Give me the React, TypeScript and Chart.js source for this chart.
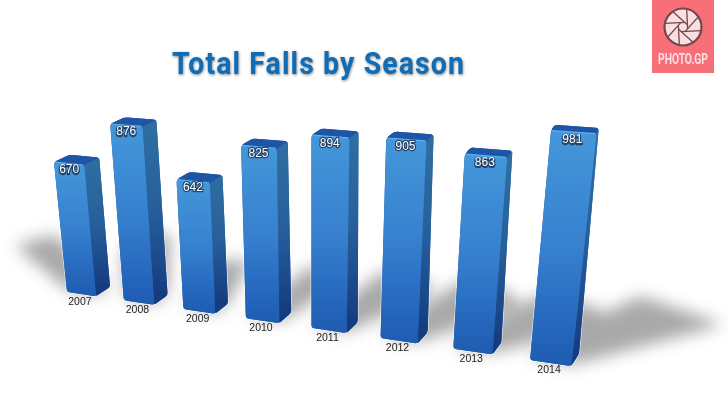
import React, { useEffect, useRef } from "react";
import { Chart, registerables } from "chart.js";

Chart.register(...registerables);

const chartTitle = "Total Falls by Season";
const seasons = ["2007", "2008", "2009", "2010", "2011", "2012", "2013", "2014"];
const totalFalls = [670, 876, 642, 825, 894, 905, 863, 981];
const logoText = "PHOTO.GP";

type P = { x: number; y: number };

// Camera fitted to the reference: u = bar slot, h = value / 1000, z = depth
function project(u: number, h: number, z: number): P {
  const w = 1 - 0.023 * u - 0.0751 * h + 0.0162 * z;
  return {
    x: (67 + 53.96 * u - 23.46 * h + 15.7 * z - 0.6 * u * h * z) / w,
    y: (292 + 1.436 * u - 206 * h - 4.5 * z + 0.3 * u * h * z) / w,
  };
}

function roundedPoly(ctx: CanvasRenderingContext2D, pts: P[], r: number) {
  const n = pts.length;
  const toward = (a: P, b: P) => {
    const len = Math.hypot(b.x - a.x, b.y - a.y) || 1;
    const d = Math.min(r, len / 2);
    return { x: a.x + ((b.x - a.x) * d) / len, y: a.y + ((b.y - a.y) * d) / len };
  };
  for (let i = 0; i < n; i++) {
    const p = pts[i];
    const prev = pts[(i + n - 1) % n];
    const next = pts[(i + 1) % n];
    const s = toward(p, prev);
    const e = toward(p, next);
    if (i === 0) ctx.moveTo(s.x, s.y);
    else ctx.lineTo(s.x, s.y);
    ctx.quadraticCurveTo(p.x, p.y, e.x, e.y);
  }
  ctx.closePath();
}

function hull(points: P[]): P[] {
  const s = [...points].sort((a, b) => a.x - b.x || a.y - b.y);
  const cross = (o: P, a: P, b: P) => (a.x - o.x) * (b.y - o.y) - (a.y - o.y) * (b.x - o.x);
  const lo: P[] = [];
  for (const p of s) {
    while (lo.length >= 2 && cross(lo[lo.length - 2], lo[lo.length - 1], p) <= 0) lo.pop();
    lo.push(p);
  }
  const up: P[] = [];
  for (const p of [...s].reverse()) {
    while (up.length >= 2 && cross(up[up.length - 2], up[up.length - 1], p) <= 0) up.pop();
    up.push(p);
  }
  return lo.slice(0, -1).concat(up.slice(0, -1));
}

function drawLogo(ctx: CanvasRenderingContext2D) {
  ctx.save();
  ctx.fillStyle = "#f96f78";
  ctx.fillRect(652, 0, 62, 73);
  const cx = 683;
  const cy = 27;
  const R = 18.5;
  ctx.beginPath();
  ctx.arc(cx, cy, R, 0, Math.PI * 2);
  ctx.fillStyle = "#fcdde1";
  ctx.fill();
  ctx.save();
  ctx.clip();
  ctx.strokeStyle = "#70494e";
  ctx.lineWidth = 1.3;
  for (let k = 0; k < 8; k++) {
    const a = (k * Math.PI) / 4 + 0.2;
    const b = a + 1.75;
    ctx.beginPath();
    ctx.moveTo(cx + R * Math.cos(a), cy + R * Math.sin(a));
    ctx.lineTo(cx + 5 * Math.cos(b), cy + 5 * Math.sin(b));
    ctx.stroke();
  }
  ctx.restore();
  ctx.beginPath();
  ctx.arc(cx, cy, R, 0, Math.PI * 2);
  ctx.strokeStyle = "#70494e";
  ctx.lineWidth = 2.2;
  ctx.stroke();
  ctx.font = "bold 15px Roboto";
  ctx.textAlign = "center";
  ctx.textBaseline = "middle";
  ctx.fillStyle = "#fde0e2";
  const m = ctx.measureText(logoText).width;
  ctx.translate(683, 60.5);
  ctx.scale(50 / m, 1);
  ctx.fillText(logoText, 0, 0);
  ctx.restore();
}

const bars3d = {
  id: "bars3d",
  afterDatasetsDraw(chart: any) {
    const { ctx } = chart;
    const xs = chart.scales.x;
    const ys = chart.scales.y;
    const pitch = xs.getPixelForValue(1) - xs.getPixelForValue(0);
    const x0 = xs.getPixelForValue(0);
    const meta = chart.getDatasetMeta(0);
    const bars = meta.data.map((el: any, i: number) => {
      const u0 = (el.x - x0) / pitch;
      return {
        i,
        u0,
        u1: u0 + el.width / pitch,
        h: (el.base - el.y) / ys.height,
      };
    });

    // ground shadows, thrown away from a light above the middle of the row
    ctx.save();
    ctx.filter = "blur(8px)";
    ctx.beginPath();
    for (const b of bars) {
      const um = (b.u0 + b.u1) / 2;
      const left = um < 2.8;
      const t = left ? (2.8 - um) / 2.55 : (um - 2.8) / 4.46;
      const farU = um + (left ? -1.94 * t : 0.57 * t);
      const outU = um + (left ? -2.35 * t : 1.78 * t);
      const farZ = (left ? 8.2 : 6.7) * b.h;
      const outZ = (left ? 5.8 : 5) * b.h;
      const spread = 0.35 * Math.max(0, 1 - Math.abs(um - 3.75) / 3.5);
      const pts: P[] = [
        project(b.u0, 0, 0.1),
        project(b.u1, 0, 0.1),
        project(b.u1, 0, 1),
        project(b.u0, 0, 1),
        project(farU - spread, 0, farZ),
        project(farU + spread, 0, farZ),
        project(outU - spread, 0, outZ),
        project(outU + spread, 0, outZ),
      ];
      roundedPoly(ctx, hull(pts), 10);
    }
    ctx.fillStyle = "rgba(40,40,40,0.4)";
    ctx.fill("nonzero");
    ctx.restore();

    for (const b of bars) {
      const fbl = project(b.u0, 0, 0);
      const fbr = project(b.u1, 0, 0);
      const sbr = project(b.u1, 0, 1);
      const ftl = project(b.u0, b.h, 0);
      const ftr = project(b.u1, b.h, 0);
      const btr = project(b.u1, b.h, 1);
      const btl = project(b.u0, b.h, 1);

      ctx.save();
      // soft white rim and solid body behind the faces
      ctx.beginPath();
      roundedPoly(ctx, [ftl, btl, btr, sbr, fbr, fbl], 3);
      ctx.strokeStyle = "rgba(255,255,255,0.5)";
      ctx.lineWidth = 2;
      ctx.stroke();
      ctx.fillStyle = "#1f5aa8";
      ctx.fill();

      // side
      const gs = ctx.createLinearGradient(0, btr.y, 0, sbr.y);
      gs.addColorStop(0, "#2f6fa0");
      gs.addColorStop(0.5, "#275f9b");
      gs.addColorStop(1, "#143c80");
      ctx.beginPath();
      roundedPoly(ctx, [ftr, btr, sbr, fbr], 2);
      ctx.fillStyle = gs;
      ctx.fill();

      // top
      ctx.beginPath();
      roundedPoly(ctx, [ftl, btl, btr, ftr], 3);
      ctx.fillStyle = "#1e55a7";
      ctx.fill();

      // front
      const gf = ctx.createLinearGradient(0, ftl.y, 0, fbr.y);
      gf.addColorStop(0, "#4497da");
      gf.addColorStop(0.5, "#3780cf");
      gf.addColorStop(0.85, "#2466bb");
      gf.addColorStop(1, "#1f5bb1");
      ctx.beginPath();
      roundedPoly(ctx, [ftl, ftr, fbr, fbl], 2.5);
      ctx.fillStyle = gf;
      ctx.fill();

      // highlight on the front top edge
      ctx.beginPath();
      ctx.moveTo(ftl.x + 1, ftl.y);
      ctx.lineTo(ftr.x - 1, ftr.y);
      ctx.strokeStyle = "#58b4ec";
      ctx.lineWidth = 1.2;
      ctx.stroke();
      ctx.restore();

      const um = (b.u0 + b.u1) / 2;
      // value label
      const v = project(um, b.h - 0.03, 0);
      ctx.save();
      ctx.font = "12px 'Liberation Sans'";
      ctx.textAlign = "center";
      ctx.textBaseline = "middle";
      ctx.lineJoin = "round";
      ctx.lineWidth = 2.4;
      ctx.strokeStyle = "rgba(25,40,70,0.75)";
      ctx.strokeText(String(totalFalls[b.i]), v.x - 0.5, v.y + 0.5);
      ctx.fillStyle = "#ffffff";
      ctx.fillText(String(totalFalls[b.i]), v.x - 0.5, v.y);
      // year label
      const y = project(um, 0, 0);
      ctx.font = "10.5px 'Liberation Sans'";
      ctx.fillStyle = "#222222";
      ctx.fillText(chart.data.labels[b.i], y.x - 1.5, y.y + 7.5);
      ctx.restore();
    }

    // title
    ctx.save();
    ctx.font = "bold 31px Roboto";
    (ctx as any).letterSpacing = "1.2px";
    ctx.textAlign = "center";
    ctx.textBaseline = "middle";
    const m = ctx.measureText(chartTitle).width;
    ctx.translate(318.5, 66);
    ctx.scale(293 / m, 1);
    ctx.shadowColor = "rgba(0,0,0,0.5)";
    ctx.shadowBlur = 3;
    ctx.shadowOffsetX = 0.5;
    ctx.shadowOffsetY = 1.5;
    ctx.fillStyle = "#0f6cb7";
    ctx.fillText(chartTitle, 0, 0);
    ctx.restore();

    drawLogo(ctx);
  },
};

export default function App() {
  const ref = useRef<HTMLCanvasElement>(null);
  useEffect(() => {
    document.body.style.margin = "0";
    document.body.style.background = "#ffffff";
    const chart = new Chart(ref.current as HTMLCanvasElement, {
      type: "bar",
      data: {
        labels: seasons,
        datasets: [
          {
            label: chartTitle,
            data: totalFalls,
            backgroundColor: "rgba(0,0,0,0)",
            barPercentage: 0.516,
            categoryPercentage: 1,
          },
        ],
      },
      options: {
        responsive: false,
        animation: false,
        events: [],
        plugins: { legend: { display: false }, tooltip: { enabled: false }, title: { display: false } },
        scales: {
          x: { display: false },
          y: { display: false, min: 0, max: 1000 },
        },
      },
      plugins: [bars3d],
    } as any);
    return () => chart.destroy();
  }, []);
  return <canvas ref={ref} width={728} height={400} style={{ display: "block" }} />;
}
